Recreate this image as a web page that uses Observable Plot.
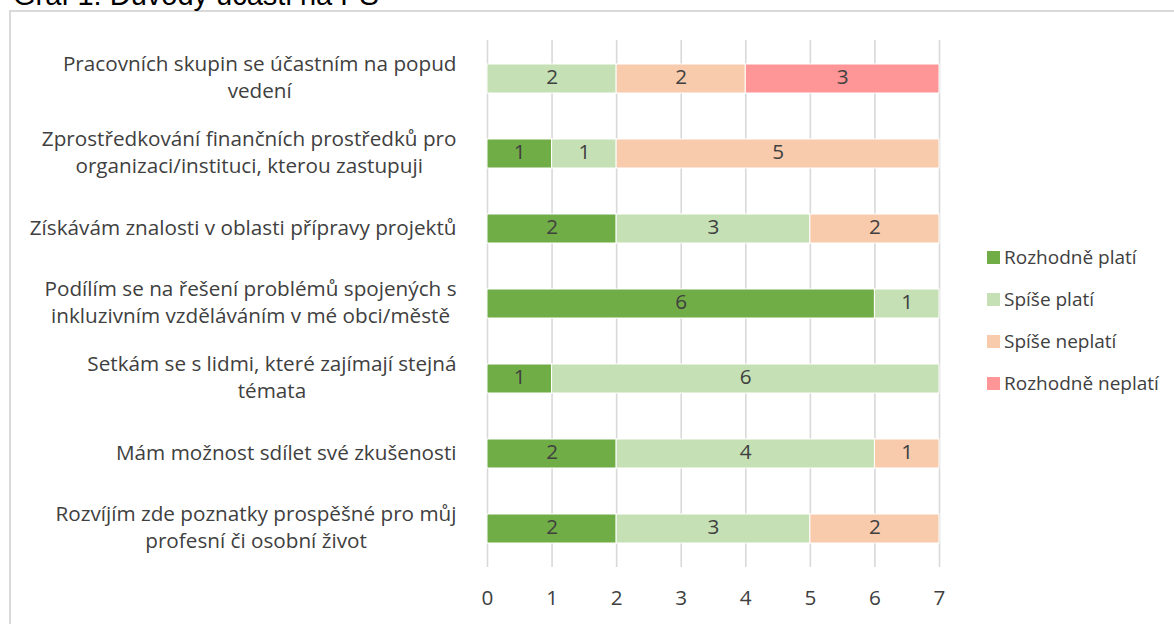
<!DOCTYPE html>
<html><head><meta charset="utf-8">
<script src="https://cdn.jsdelivr.net/npm/d3@7"></script>
<script src="https://cdn.jsdelivr.net/npm/@observablehq/plot@0.6"></script>
<style>
html,body{margin:0;padding:0;width:1174px;height:624px;overflow:hidden;background:#fff;}
#title{position:absolute;left:13px;top:-19px;font-family:"Liberation Sans",Arial,sans-serif;font-size:29px;line-height:1;color:#000;white-space:nowrap;}
#frame{position:absolute;left:9px;top:10px;width:1300px;height:800px;border:2px solid #d9d9d9;box-sizing:border-box;}
#chart{position:absolute;left:0;top:0;}
#legend{position:absolute;left:987px;top:236px;font-family:"Open Sans",sans-serif;font-size:19px;color:#404040;}
#legend .item{display:flex;align-items:center;height:42px;white-space:nowrap;}
#legend .sw{display:inline-block;width:13px;height:13px;margin-right:4px;}
</style>
</head><body>
<div id="frame"></div>
<div id="title">Graf 1: Důvody účasti na PS</div>
<div id="chart"></div>
<div id="legend"></div>
<script>
const categories = [
  "Pracovních skupin se účastním na popud\nvedení",
  "Zprostředkování finančních prostředků pro\norganizaci/instituci, kterou zastupuji",
  "Získávám znalosti v oblasti přípravy projektů",
  "Podílím se na řešení problémů spojených s\ninkluzivním vzděláváním v mé obci/městě",
  "Setkám se s lidmi, které zajímají stejná\ntémata",
  "Mám možnost sdílet své zkušenosti",
  "Rozvíjím zde poznatky prospěšné pro můj\nprofesní či osobní život"
];
const series = ["Rozhodně platí", "Spíše platí", "Spíše neplatí", "Rozhodně neplatí"];
const colors = ["#70AD47", "#C5E0B4", "#F8CBAD", "#FE9597"];
const rozhodnePlati   = [0, 1, 2, 6, 1, 2, 2];
const spisePlati      = [2, 1, 3, 1, 6, 4, 3];
const spiseNeplati    = [2, 5, 2, 0, 0, 1, 2];
const rozhodneNeplati = [3, 0, 0, 0, 0, 0, 0];
const xTicks = [0, 1, 2, 3, 4, 5, 6, 7];

const values = [rozhodnePlati, spisePlati, spiseNeplati, rozhodneNeplati];
const data = [];
series.forEach((s, i) => categories.forEach((c, j) => {
  if (values[i][j] > 0) data.push({category: c, series: s, value: values[i][j]});
}));

const FS = 20.7;
const TXT = "#404040";
const plot = Plot.plot({
  width: 1174, height: 624,
  marginLeft: 487, marginRight: 235, marginTop: 40, marginBottom: 57,
  style: {fontFamily: "'Open Sans', sans-serif", fontSize: FS + "px", color: TXT, background: "transparent", overflow: "visible"},
  x: {domain: [0, 7], label: null},
  y: {domain: categories, padding: 0, label: null},
  color: {domain: series, range: colors},
  marks: [
    Plot.ruleX(xTicks, {stroke: "#d9d9d9", strokeWidth: 1.6}),
    Plot.barX(data, Plot.stackX({x: "value", y: "category", fill: "series", order: series, insetTop: 23, insetBottom: 23, stroke: "white", strokeWidth: 1})),
    Plot.text(data, Plot.stackX({x: "value", y: "category", z: "series", order: series, text: "value", fill: TXT, fontSize: FS, dy: -2})),
    Plot.axisX({ticks: xTicks, tickFormat: d3.format("d"), tickSize: 0, tickPadding: 23, label: null, fontSize: FS, fill: TXT}),
    Plot.axisY({tickSize: 0, tickPadding: 31, label: null, fontSize: FS, lineHeight: 1.3, fill: TXT, dy: -3})
  ]
});
document.getElementById("chart").appendChild(plot);

// center multi-line category labels within their block (right edge stays fixed)
plot.querySelectorAll('[aria-label="y-axis tick label"] text').forEach(t => {
  const spans = t.querySelectorAll("tspan");
  if (spans.length < 2) return;
  let w = 0;
  spans.forEach(s => { w = Math.max(w, s.getComputedTextLength()); });
  t.setAttribute("text-anchor", "middle");
  spans.forEach(s => s.setAttribute("x", -w / 2));
});

const legend = document.getElementById("legend");
series.forEach((s, i) => {
  const d = document.createElement("div");
  d.className = "item";
  const sw = document.createElement("span");
  sw.className = "sw";
  sw.style.background = colors[i];
  const lb = document.createElement("span");
  lb.textContent = s;
  d.appendChild(sw); d.appendChild(lb);
  legend.appendChild(d);
});
</script>
</body></html>
